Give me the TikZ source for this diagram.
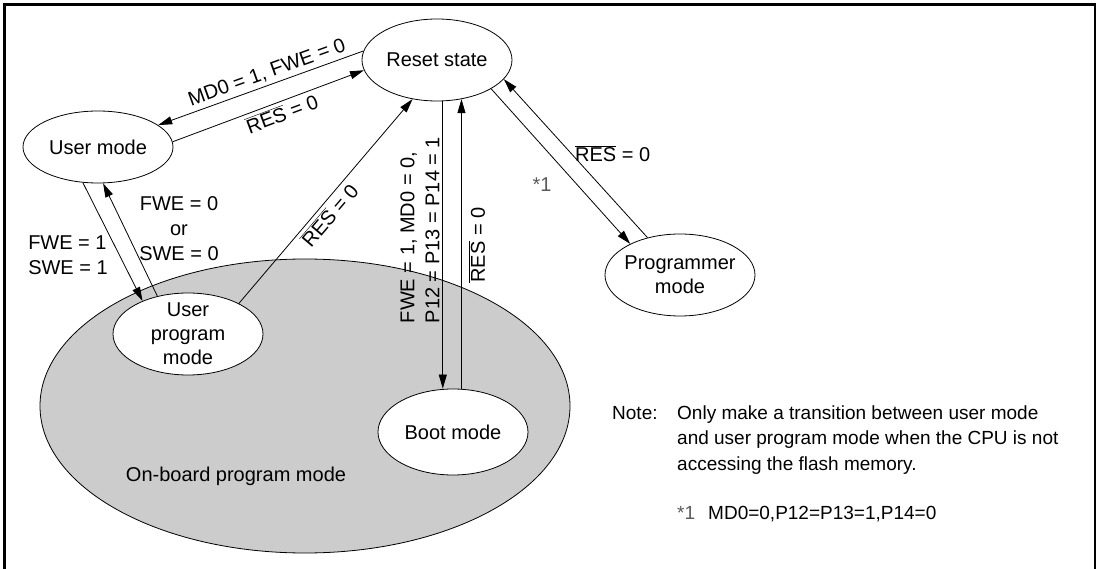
\documentclass[tikz,border=0pt]{standalone}
\usepackage{fontspec}
\setmainfont{Liberation Sans}
\usetikzlibrary{shapes.geometric,arrows.meta,calc}
\definecolor{boardgray}{RGB}{204,204,204}
\definecolor{stargray}{RGB}{90,90,90}
\newcommand{\resbar}{$\overline{\mbox{RES}}$}
\begin{document}
\begin{tikzpicture}[x=1pt,y=-1pt,
  st/.style={ellipse,draw,fill=white,line width=0.8pt,inner sep=0pt,minimum width=150pt,minimum height=82pt},
  txt/.style={font=\fontsize{20}{24}\selectfont,align=center,inner sep=0pt},
  lbl/.style={font=\fontsize{20}{25}\selectfont},
  note/.style={font=\fontsize{19}{25}\selectfont,inner sep=0pt,anchor=base west},
  arr/.style={line width=0.8pt,-{Triangle[length=14pt,width=8pt]}},
  ]
\useasboundingbox (0,0) rectangle (1101,569);
\fill[white] (0,0) rectangle (1101,569);
\draw[line width=2.5pt] (4.5,600) -- (4.5,4.5) -- (1095,4.5) -- (1095,600);

% on-board region
\node[ellipse,draw,fill=boardgray,line width=0.8pt,inner sep=0pt,
      minimum width=530pt,minimum height=294pt] (onboard) at (305,406) {};
\node[lbl] (onboardtxt) at (236,476) {On-board program mode};

% states
\node[st] (reset) at (437,60) {};
\node[txt] (resettxt) at (reset) {Reset state};
\node[st,minimum height=72pt] (user) at (98,147) {};
\node[txt] (usertxt) at (user) {User mode};
\node[st] (upm) at (188,334) {};
\node[txt] (upmtxt) at (upm) {User\\program\\mode};
\node[st] (prog) at (680,275) {};
\node[txt] (progtxt) at (prog) {Programmer\\mode};
\node[st,minimum height=86pt] (boot) at (453,432) {};
\node[txt] (boottxt) at (boot) {Boot mode};

% reset <-> user mode
\draw[arr] (reset.173) -- node[lbl,above,sloped,pos=0.45] (lmd) {MD0 = 1, FWE = 0} (user.20);
\draw[arr] (user.4) -- node[lbl,below,sloped,pos=0.55] (lres1) {\resbar{} = 0} (reset.188);

% user mode <-> user program mode
\draw[arr] (user.247) -- (upm.144);
\draw[arr] (upm.129) -- (user.278);
\node[lbl,align=left] (fwe1) at (68,255) {FWE = 1\\SWE = 1};
\node[lbl,align=center] (fwe0) at (179,229) {FWE = 0\\or\\SWE = 0};

% user program mode -> reset
\draw[arr] (upm.31) -- node[lbl,below,sloped,pos=0.47] (lres2) {\resbar{} = 0} (reset.238);

% reset <-> boot
\draw[arr] (reset.278) -- (reset.278 |- boot.north);
\draw[arr] (boot.north -| reset.302) -- (reset.302);
\node[lbl,rotate=90,align=left] (bootlbl) at (420,230) {FWE = 1, MD0 = 0,\\P12 = P13 = P14 = 1};
\node[lbl,rotate=90] (bootres) at (477,245) {\resbar{} = 0};

% reset <-> programmer
\draw[arr] (reset.332) -- (prog.148);
\draw[arr] (prog.131) -- node[lbl,right,pos=0.53] (lres3) {\resbar{} = 0} (reset.344);
\node[lbl,text=stargray] (star) at (542,185) {*1};

% notes
\node[note] (notehd) at (612,419) {Note:};
\node[note] (note1) at (677,419) {Only make a transition between user mode};
\node[note] (note2) at (677,444.5) {and user program mode when the CPU is not};
\node[note] (note3) at (677,470) {accessing the flash memory.};
\node[note,text=stargray] (note4s) at (677,519) {*1};
\node[note] (note4) at (708,519) {MD0=0,P12=P13=1,P14=0};
\end{tikzpicture}
\end{document}
